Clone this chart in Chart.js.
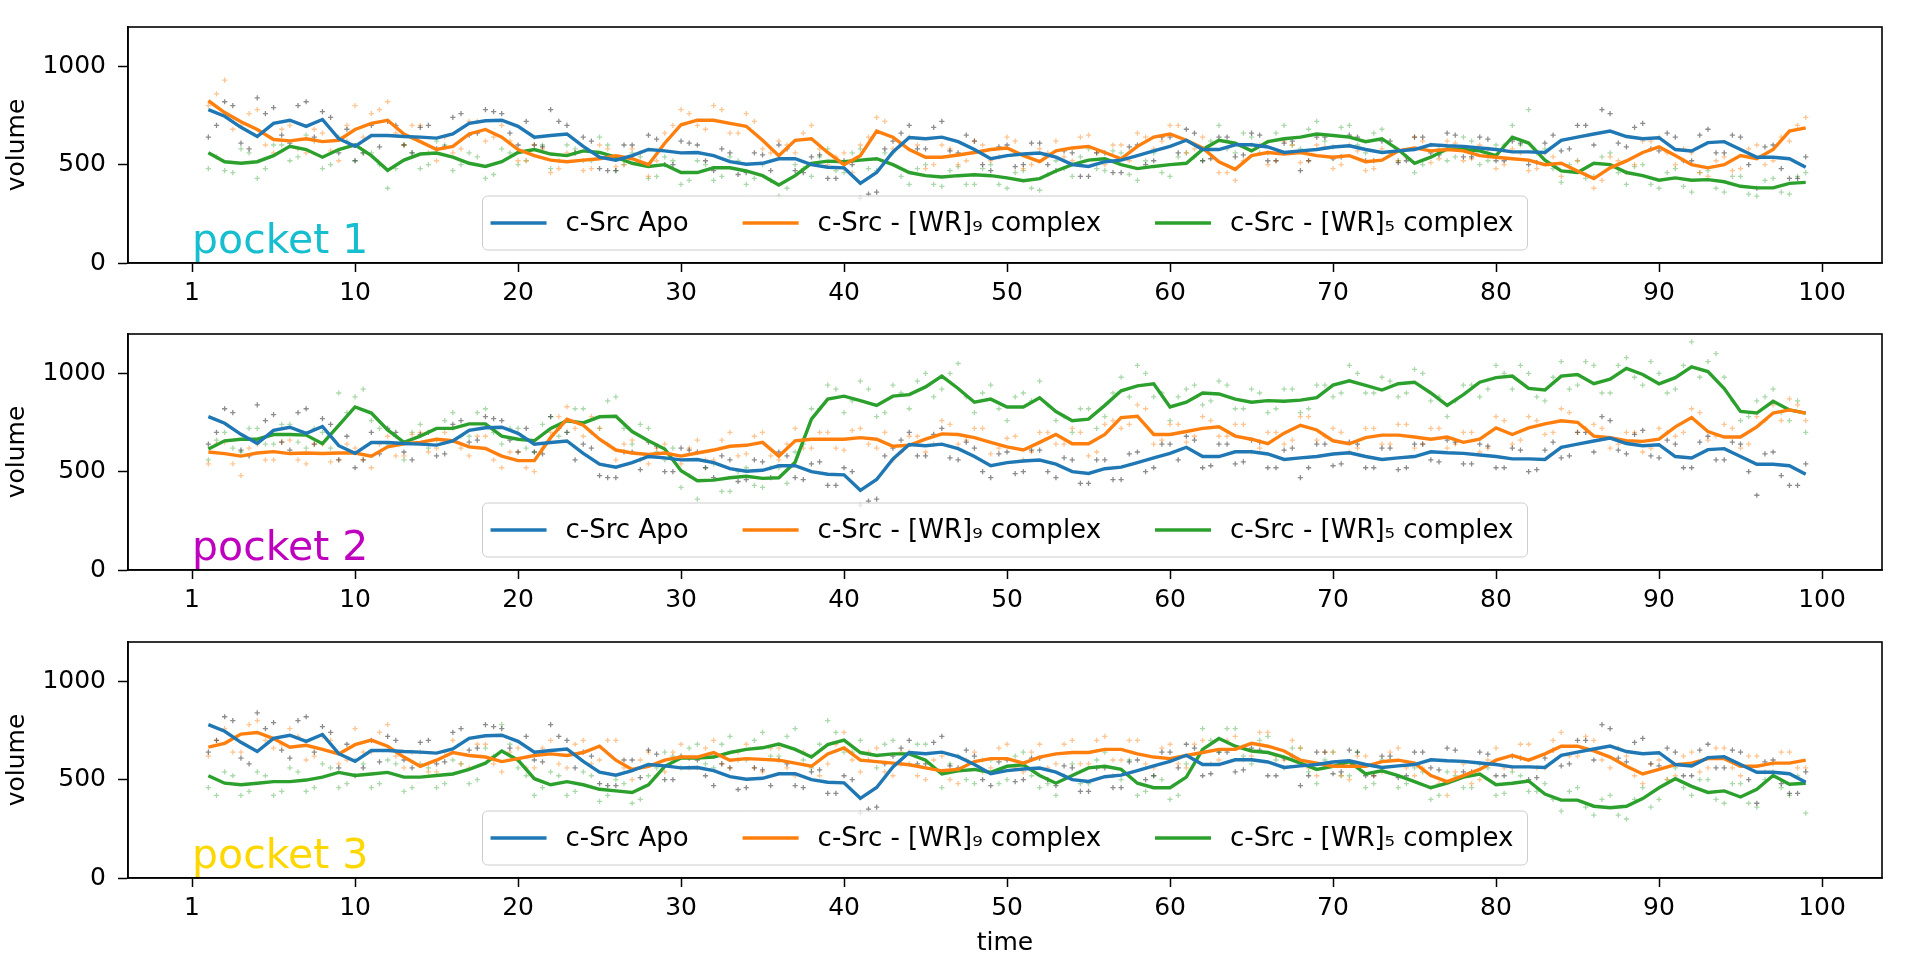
<!DOCTYPE html>
<html>
<head>
<meta charset="utf-8">
<title>pocket volume</title>
<script src="https://cdn.jsdelivr.net/npm/chart.js@4.4.1/dist/chart.umd.min.js"></script>
<style>
  html, body { margin: 0; padding: 0; background: #fff; }
  #wrap { position: relative; width: 1920px; height: 959px; overflow: hidden; }
  #wrap canvas { position: absolute; left: 0; }
</style>
</head>
<body>
<div id="wrap">
  <canvas id="pocket1" width="1920" height="307" style="top:0px"></canvas>
  <canvas id="pocket2" width="1920" height="307" style="top:307px"></canvas>
  <canvas id="pocket3" width="1920" height="344" style="top:615px"></canvas>
</div>
<script>
// ———————————————— Data ————————————————
const seriesLabels = ['c-Src Apo', 'c-Src - [WR]₉ complex', 'c-Src - [WR]₅ complex'];
const pocketNames  = ['pocket 1', 'pocket 2', 'pocket 3'];
const xTickValues  = [0, 10, 20, 30, 40, 50, 60, 70, 80, 90, 100];
const xTickLabels  = ['1', '10', '20', '30', '40', '50', '60', '70', '80', '90', '100'];
const yTickValues  = [0, 500, 1000];

// smoothed lines sit at t = 1..99, raw frames at t = 1..99 and 1.5..98.5
// Apo is the same in every pocket panel
const apoSmooth = [
  780,746,690,643,710,726,695,730,632,593,
  648,648,643,640,635,656,710,723,726,695,
  640,648,656,593,538,523,546,577,570,560,
  562,546,515,502,507,530,530,500,487,484,
  405,460,565,638,632,640,617,577,530,546,
  554,559,538,500,491,515,523,546,570,593,
  624,577,577,601,601,590,562,570,577,590,
  596,577,562,570,577,601,596,593,585,577,
  565,565,562,624,640,656,671,643,632,637,
  577,570,612,617,577,538,538,530,487];
const apoRaw = [
  640,820,610,840,790,610,820,770,560,520,
  700,720,600,690,580,740,650,780,760,600,
  600,780,700,640,480,470,600,650,500,620,
  600,470,560,460,550,600,470,540,430,520,
  330,360,620,700,580,720,560,620,470,600,
  500,610,470,560,440,560,460,600,520,640,
  680,520,640,540,660,520,610,470,640,530,
  650,520,620,510,640,560,660,540,640,520,
  620,500,610,570,700,600,760,590,710,570,
  640,520,680,560,640,380,600,430,540];
const apoRawB = [
  700,800,580,760,650,800,640,740,680,560,
  590,700,560,700,590,760,660,770,660,720,
  590,720,560,620,470,600,510,630,500,610,
  520,580,450,560,470,580,460,550,430,500,
  350,580,660,580,690,570,650,500,590,490,
  610,500,570,440,560,460,590,500,640,560,
  660,530,640,550,650,520,620,520,640,540,
  640,520,620,520,640,550,650,540,630,520,
  610,510,650,580,700,780,610,690,580,660,
  520,650,560,650,500,590,480,430];

// pocket 1
const wr9Smooth1 = [
  825,765,718,679,628,621,632,617,624,679,
  710,726,656,617,577,593,656,679,640,577,
  546,523,515,523,530,546,530,500,609,703,
  726,726,710,695,624,546,624,632,562,500,
  546,671,640,577,538,538,549,562,577,585,
  546,515,570,585,593,562,530,593,640,656,
  624,585,515,476,546,562,554,562,546,538,
  546,515,523,570,585,570,577,570,546,538,
  530,523,500,507,468,429,484,519,562,590,
  546,500,484,500,546,530,577,671,687];
const wr9Raw1 = [
  800,930,700,780,560,700,560,660,520,800,
  760,820,600,700,520,560,720,620,700,520,
  600,460,560,470,600,490,580,440,660,780,
  700,800,660,760,580,620,560,700,500,560,
  600,740,580,640,480,600,500,620,520,640,
  480,580,620,520,650,500,600,660,580,700,
  560,640,460,420,600,500,620,510,600,480,
  600,470,580,520,640,510,620,520,600,480,
  580,470,560,440,520,380,540,460,620,640,
  500,560,440,540,480,600,520,620,740];
const wr9RawB1 = [
  860,680,760,600,680,580,680,570,700,640,
  780,660,700,560,640,580,720,640,620,520,
  580,480,560,480,580,500,560,520,700,760,
  680,780,660,720,560,600,660,580,540,460,
  640,720,600,600,500,580,520,600,540,620,
  500,560,540,640,560,600,520,640,620,700,
  580,600,460,520,600,520,600,520,590,500,
  570,480,560,540,620,530,610,530,580,500,
  560,480,540,470,450,420,520,500,620,560,
  580,460,520,470,580,500,640,700];
const wr5Smooth1 = [
  560,515,507,515,546,593,577,538,577,601,
  546,471,523,554,559,538,507,491,515,562,
  577,554,546,570,562,538,507,491,500,460,
  460,484,484,468,444,397,444,507,518,515,
  523,530,500,460,444,437,444,449,444,433,
  418,429,468,500,523,530,500,480,491,500,
  507,577,624,609,570,617,632,640,656,648,
  640,617,632,577,507,538,580,577,570,546,
  640,610,523,468,460,507,500,460,444,421,
  433,421,424,413,390,382,382,405,410];
const wr5Raw1 = [
  480,470,580,430,600,520,650,480,640,520,
  560,380,600,480,620,470,560,430,580,500,
  640,480,600,520,640,470,560,430,540,400,
  520,420,540,400,500,340,500,440,580,460,
  580,470,560,400,500,390,490,400,500,380,
  470,370,520,440,580,470,560,420,560,440,
  560,520,700,560,640,560,700,580,720,590,
  700,560,680,520,460,600,520,640,500,600,
  700,780,580,410,520,440,560,400,500,380,
  480,360,470,360,440,340,430,350,460];
const wr5RawB1 = [
  540,460,560,480,600,540,620,500,620,560,
  500,480,560,500,600,500,540,450,560,520,
  600,520,580,520,600,500,540,440,520,420,
  500,440,520,430,420,380,480,540,470,560,
  480,560,440,480,400,470,400,480,400,460,
  380,450,480,540,480,570,450,520,460,540,
  540,620,580,660,560,660,600,680,620,690,
  600,660,560,540,500,580,540,620,520,600,
  600,560,480,500,430,540,460,490,400,460,
  390,460,380,440,350,420,360,440];

// pocket 2
const wr9Smooth2 = [
  600,592,579,595,602,592,595,592,595,595,
  579,626,642,649,665,657,626,618,579,556,
  556,673,767,736,665,610,595,587,595,579,
  595,610,629,634,649,579,657,665,665,665,
  673,665,629,634,665,692,689,673,649,626,
  610,649,689,642,642,689,775,782,689,689,
  704,720,728,681,665,642,696,736,712,657,
  642,673,686,686,676,665,676,649,665,723,
  689,723,743,759,751,681,673,657,654,665,
  728,775,704,676,676,728,798,814,798];
const wr9Raw2 = [
  540,650,480,640,560,660,540,640,560,620,
  520,680,580,700,620,720,580,680,520,600,
  500,700,830,680,720,560,660,540,640,540,
  660,560,700,590,700,560,720,620,700,610,
  720,620,560,680,600,760,640,720,590,670,
  560,700,640,720,580,740,720,840,640,740,
  650,780,680,740,600,700,640,780,660,720,
  600,720,640,740,620,720,620,700,600,780,
  640,780,690,820,700,740,620,700,600,720,
  680,820,660,740,620,780,840,870,760];
const wr9RawB2 = [
  640,540,620,560,650,560,640,550,640,560,
  640,580,690,600,700,620,680,560,600,520,
  620,780,720,780,640,640,560,620,560,620,
  560,660,580,680,580,640,620,700,620,710,
  640,700,600,680,640,740,660,720,620,680,
  600,700,640,700,600,760,740,820,660,740,
  680,760,680,740,620,700,660,780,680,700,
  620,720,640,740,640,720,640,700,620,760,
  660,760,700,800,720,720,640,700,620,700,
  700,800,680,720,640,760,760,840];
const wr5Smooth2 = [
  615,657,665,665,689,689,686,642,736,829,
  798,712,649,681,720,720,743,743,681,665,
  657,720,759,748,779,782,704,657,615,505,
  454,457,469,477,466,469,548,767,869,884,
  861,837,884,892,931,986,923,853,869,829,
  829,876,806,759,767,837,911,936,947,829,
  853,900,895,869,853,861,858,864,876,940,
  962,939,915,947,955,900,837,892,955,978,
  986,923,915,986,994,947,970,1025,994,947,
  978,1033,1009,923,806,798,858,814,798];
const wr5Raw2 = [
  560,700,600,720,640,740,620,700,900,880,
  760,640,560,740,660,800,680,820,640,720,
  600,780,700,820,720,880,640,720,560,420,
  360,540,400,520,420,520,600,820,940,800,
  960,780,940,820,1000,920,1050,800,940,760,
  900,960,760,700,820,780,980,1040,880,760,
  920,840,960,820,920,800,920,800,940,880,
  1040,900,980,880,1020,860,780,940,880,1040,
  920,1000,860,1060,940,1040,900,1080,940,1000,
  920,1160,1060,980,760,860,920,760,700];
const wr5RawB2 = [
  660,620,720,640,740,650,720,620,800,920,
  720,680,700,620,760,680,800,700,720,620,
  740,680,820,700,860,720,740,600,620,480,
  520,400,500,430,520,440,640,820,920,860,
  920,800,900,960,880,1000,880,900,820,880,
  860,840,780,820,720,900,880,1000,900,880,
  940,860,940,820,900,820,920,820,940,900,
  1000,900,960,900,1000,880,860,940,920,1000,
  1040,880,980,920,1060,900,1040,980,1060,900,
  1040,980,1100,860,780,880,800,860];

// pocket 3
const wr9Smooth3 = [
  665,685,732,740,709,665,675,654,631,678,
  701,670,615,568,599,638,623,615,592,607,
  623,631,623,638,670,599,552,568,599,615,
  615,638,599,607,603,599,584,568,631,662,
  599,592,584,576,560,545,552,592,607,607,
  584,615,631,638,638,654,654,631,615,607,
  623,638,654,654,685,670,646,599,584,568,
  568,568,592,599,584,521,490,521,552,599,
  623,599,631,670,670,646,615,568,529,552,
  576,584,607,607,568,568,584,584,599];
const wr9Raw3 = [
  620,760,640,800,660,760,600,720,580,760,
  640,780,560,640,540,700,560,680,540,660,
  560,700,560,700,600,700,500,640,540,680,
  560,700,560,680,540,660,520,620,580,740,
  540,660,520,640,500,620,480,640,560,680,
  540,680,580,700,580,720,600,700,560,680,
  560,700,600,720,620,740,600,660,520,640,
  500,620,540,660,520,460,420,580,500,660,
  560,680,560,740,620,700,560,620,480,600,
  520,640,560,660,520,620,540,640,560];
const wr9RawB3 = [
  700,640,780,700,680,720,620,700,600,640,
  740,620,640,540,640,580,680,580,640,560,
  660,580,680,580,700,560,600,520,640,560,
  660,580,640,560,660,560,640,520,680,600,
  640,540,640,520,600,500,600,540,660,560,
  640,560,680,580,700,600,700,580,660,580,
  680,580,700,600,740,620,700,560,640,520,
  620,520,640,560,560,480,540,480,600,560,
  680,560,700,620,720,600,660,520,580,500,
  620,540,660,560,620,540,640,560];
const wr5Smooth3 = [
  520,482,474,482,490,490,498,513,537,521,
  529,537,513,513,521,529,552,584,646,599,
  505,474,490,474,451,443,435,474,568,610,
  610,615,638,654,662,681,654,615,678,701,
  638,623,631,631,599,529,545,552,537,568,
  576,521,482,521,560,568,552,482,459,459,
  513,654,709,670,646,638,615,584,552,568,
  592,529,545,521,490,459,482,513,529,474,
  482,493,427,396,396,365,357,365,404,459,
  505,466,435,443,412,451,521,477,482];
const wr5Raw3 = [
  460,540,420,540,420,560,440,580,460,600,
  460,600,440,580,460,600,480,660,780,560,
  420,540,420,540,390,500,380,520,640,560,
  680,560,720,600,740,620,760,560,800,640,
  700,560,700,580,680,460,620,480,600,500,
  640,460,420,580,480,640,500,420,520,400,
  580,760,640,760,580,720,560,660,480,640,
  520,460,600,460,560,400,540,460,580,420,
  540,440,480,340,460,320,420,300,460,400,
  560,420,500,380,480,360,580,420,330];
const wr5RawB3 = [
  420,520,440,520,440,540,460,560,480,580,
  480,580,460,560,480,580,500,620,680,520,
  460,520,440,520,420,480,400,560,620,660,
  580,680,600,700,620,720,600,680,740,640,
  600,680,580,680,560,580,500,600,480,620,
  520,480,520,480,600,520,600,440,500,420,
  600,700,760,620,700,600,660,540,600,520,
  640,480,600,480,540,420,520,460,560,430,
  520,440,400,440,360,400,320,400,360,500,
  460,500,400,480,380,500,460,520];

// ———————————————— Look ————————————————
const lineColors   = ['#1f77b4', '#ff7f0e', '#2ca02c'];
const dotColors    = ['rgba(0,0,0,0.45)', 'rgba(255,127,14,0.45)', 'rgba(44,160,44,0.4)'];
const pocketColors = ['#17becf', '#bf00bf', '#ffd700'];

Chart.defaults.font.family = '"DejaVu Sans", sans-serif';
Chart.defaults.font.size = 25;
Chart.defaults.color = '#000';

const AREA_TOP = 7, AREA_H = 256, AREA_LEFT = 128, AREA_RIGHT_PAD = 38;

function toPoints(values, start) {
  return values.map((v, i) => ({ x: start + i, y: v }));
}

// frame, pocket name and matplotlib-ish legend inside the plot
const panelPlugin = {
  id: 'panel',
  afterDatasetsDraw(chart, args, opts) {
    const { ctx, chartArea: a, scales } = chart;
    ctx.save();

    ctx.font = '41px "DejaVu Sans"';
    ctx.fillStyle = opts.color;
    ctx.textAlign = 'left';
    ctx.textBaseline = 'alphabetic';
    ctx.fillText(opts.name, scales.x.getPixelForValue(0), scales.y.getPixelForValue(50));

    ctx.strokeStyle = '#000';
    ctx.lineWidth = 1.6;
    ctx.strokeRect(a.left, a.top, a.right - a.left, a.bottom - a.top);

    // legend, lower center
    ctx.font = '26px "DejaVu Sans"';
    const items = chart.data.datasets.filter(d => d.showLine);
    const handleLen = 56, handleGap = 19, colGap = 54, padL = 8, padR = 14, boxH = 54;
    const widths = items.map(d => ctx.measureText(d.label).width);
    const boxW = padL + padR + widths.reduce((s, w) => s + w, 0)
               + items.length * (handleLen + handleGap) + (items.length - 1) * colGap;
    const bx = (a.left + a.right) / 2 - boxW / 2;
    const by = a.bottom - 13 - boxH;
    ctx.beginPath();
    ctx.roundRect(bx, by, boxW, boxH, 5);
    ctx.fillStyle = 'rgba(255,255,255,0.8)';
    ctx.fill();
    ctx.strokeStyle = '#cccccc';
    ctx.lineWidth = 1;
    ctx.stroke();

    let cx = bx + padL;
    const cy = by + boxH / 2;
    items.forEach((d, i) => {
      ctx.strokeStyle = d.borderColor;
      ctx.lineWidth = 3.4;
      ctx.beginPath();
      ctx.moveTo(cx, cy);
      ctx.lineTo(cx + handleLen, cy);
      ctx.stroke();
      cx += handleLen + handleGap;
      ctx.fillStyle = '#000';
      ctx.textBaseline = 'middle';
      ctx.fillText(d.label, cx, cy + 1);
      cx += widths[i] + colGap;
    });
    ctx.restore();
  }
};

function dotSet(vals, start, k) {
  return {
    label: '',
    data: toPoints(vals, start),
    showLine: false,
    pointStyle: 'cross',
    pointRadius: 2.6,
    borderColor: dotColors[k],
    backgroundColor: dotColors[k],
    borderWidth: 1.3,
    order: 1
  };
}

function buildDatasets(smooths, raws, rawsB) {
  const lines = smooths.map((vals, k) => ({
    label: seriesLabels[k],
    data: toPoints(vals, 1),
    showLine: true,
    borderColor: lineColors[k],
    borderWidth: 3.4,
    pointRadius: 0,
    tension: 0,
    order: 0
  }));
  const dots = raws.map((vals, k) => dotSet(vals, 1, k))
    .concat(rawsB.map((vals, k) => dotSet(vals, 1.5, k)));
  return lines.concat(dots);
}

function makePanel(canvasId, idx, smooths, raws, rawsB, showTime) {
  const canvas = document.getElementById(canvasId);
  const xAxisH = canvas.height - AREA_TOP - AREA_H;
  return new Chart(canvas.getContext('2d'), {
    type: 'scatter',
    data: { datasets: buildDatasets(smooths, raws, rawsB) },
    options: {
      responsive: false,
      animation: false,
      events: [],
      layout: { padding: { top: AREA_TOP, right: AREA_RIGHT_PAD, left: 0, bottom: 0 } },
      plugins: {
        legend: { display: false },
        tooltip: { enabled: false },
        panel: { name: pocketNames[idx], color: pocketColors[idx] }
      },
      scales: {
        x: {
          type: 'linear',
          min: -3.93,
          max: 103.68,
          afterBuildTicks: s => { s.ticks = xTickValues.map(v => ({ value: v })); },
          afterFit: s => { s.height = xAxisH; },
          ticks: { autoSkip: false, maxRotation: 0, padding: 6, callback: (v, i) => xTickLabels[i] },
          grid: { drawOnChartArea: false, drawTicks: true, tickLength: 9, tickWidth: 1.5, tickColor: '#000' },
          border: { display: true, color: '#000', width: 1.6 },
          title: { display: showTime, text: 'time', padding: { top: 0, bottom: 1 } }
        },
        y: {
          min: 0,
          max: 1200,
          afterBuildTicks: s => { s.ticks = yTickValues.map(v => ({ value: v })); },
          afterFit: s => { s.width = AREA_LEFT; },
          ticks: { padding: 12, callback: v => String(v) },
          grid: { drawOnChartArea: false, drawTicks: true, tickLength: 10, tickWidth: 1.5, tickColor: '#000' },
          border: { display: true, color: '#000', width: 1.6 },
          title: { display: true, text: 'volume', padding: { top: 2, bottom: 0 } }
        }
      }
    },
    plugins: [panelPlugin]
  });
}

// ———————————————— Panels ————————————————
makePanel('pocket1', 0, [apoSmooth, wr9Smooth1, wr5Smooth1], [apoRaw, wr9Raw1, wr5Raw1], [apoRawB, wr9RawB1, wr5RawB1], false);
makePanel('pocket2', 1, [apoSmooth, wr9Smooth2, wr5Smooth2], [apoRaw, wr9Raw2, wr5Raw2], [apoRawB, wr9RawB2, wr5RawB2], false);
makePanel('pocket3', 2, [apoSmooth, wr9Smooth3, wr5Smooth3], [apoRaw, wr9Raw3, wr5Raw3], [apoRawB, wr9RawB3, wr5RawB3], true);
</script>
</body>
</html>
